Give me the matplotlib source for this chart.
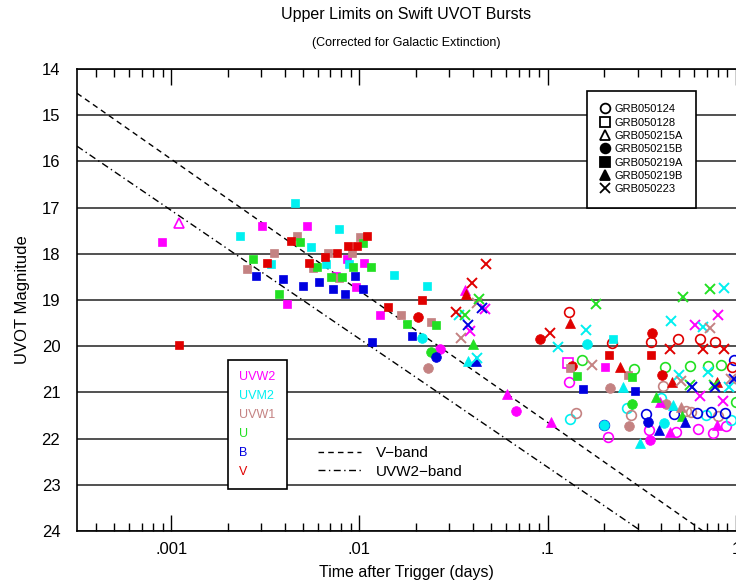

# uvot_limits.py
# Upper limits on Swift UVOT bursts, magnitude vs. time after trigger

import numpy as np
import matplotlib
matplotlib.use("Agg")
import matplotlib.pyplot as plt
from matplotlib.lines import Line2D

plt.rcParams['font.family'] = ['Liberation Sans', 'DejaVu Sans']

# band colours and legend order
BANDS = ['W2', 'M2', 'W1', 'U', 'B', 'V']
BAND_NAMES = ['UVW2', 'UVM2', 'UVW1', 'U', 'B', 'V']
BAND_COLORS = {'W2': '#ff00ff', 'M2': '#00f0f0', 'W1': '#c48282',
               'U': '#22e022', 'B': '#0000e0', 'V': '#e00000'}

# GRB050124 (open circles)
grb050124_band = ['V', 'W2', 'U', 'M2', 'W1', 'V', 'B', 'W2', 'U', 'M2', 'W1',
                  'B', 'W2', 'V', 'V', 'U', 'W1', 'M2', 'B', 'W1', 'W2', 'B',
                  'W2', 'M2', 'B', 'W2', 'B', 'W2', 'V', 'V', 'V', 'U', 'U',
                  'U', 'U', 'M2', 'W1', 'W1', 'B']
grb050124_time = [0.130, 0.129, 0.152, 0.131, 0.142, 0.219, 0.199, 0.209, 0.287,
                  0.264, 0.278, 0.333, 0.343, 0.355, 0.491, 0.422, 0.409, 0.400,
                  0.467, 0.544, 0.482, 0.619, 0.631, 0.690, 0.738, 0.754, 0.877,
                  0.887, 0.640, 0.776, 0.948, 0.571, 0.706, 0.836, 0.995, 0.940,
                  0.800, 0.580, 0.970]
grb050124_mag = [19.25, 20.77, 20.30, 21.58, 21.45, 19.94, 21.71, 21.96, 20.49,
                 21.34, 21.49, 21.47, 21.81, 19.90, 19.85, 20.46, 20.86, 21.13,
                 21.47, 21.40, 21.85, 21.45, 21.79, 21.49, 21.42, 21.87, 21.45,
                 21.73, 19.85, 19.90, 20.46, 20.43, 20.43, 20.41, 21.20, 21.60,
                 21.52, 21.43, 20.30]

# GRB050128 (open squares)
grb050128_band = ['W2']
grb050128_time = [0.128]
grb050128_mag = [20.37]

# GRB050215A (open triangles)
grb050215a_band = ['W2']
grb050215a_time = [0.0011]
grb050215a_mag = [17.33]

# GRB050215B (filled circles)
grb050215b_band = ['V', 'M2', 'U', 'W2', 'B', 'W1', 'W2', 'V', 'V', 'M2', 'W1',
                   'U', 'W1', 'M2', 'B', 'W2', 'V', 'V', 'W1', 'M2']
grb050215b_time = [0.0204, 0.0215, 0.0239, 0.0267, 0.0254, 0.0230, 0.0676, 0.0908,
                   0.135, 0.162, 0.215, 0.281, 0.270, 0.199, 0.340, 0.348, 0.359,
                   0.406, 0.425, 0.417]
grb050215b_mag = [19.36, 19.83, 20.12, 20.05, 20.24, 20.47, 21.40, 19.85, 20.42,
                  19.95, 20.91, 21.25, 21.72, 21.71, 21.65, 22.03, 19.71, 20.62,
                  21.25, 21.66]

# GRB050219A (filled squares)
grb050219a_band = ['W2', 'V', 'M2', 'W2', 'U', 'W1', 'B', 'V', 'M2', 'W2', 'M2',
                   'W1', 'V', 'U', 'M2', 'W1', 'V', 'U', 'V', 'V', 'W1', 'M2',
                   'W1', 'V', 'W1', 'V', 'V', 'W1', 'U', 'M2', 'W2', 'M2', 'U',
                   'W2', 'U', 'B', 'B', 'B', 'U', 'W2', 'W1', 'U', 'B', 'B', 'B',
                   'W2', 'B', 'U', 'W2', 'M2', 'V', 'W2', 'M2', 'V', 'W1', 'U',
                   'W1', 'U', 'B', 'B', 'V', 'W2', 'U', 'B', 'V', 'W1', 'U', 'B',
                   'W1', 'M2']
grb050219a_time = [0.000896, 0.0011, 0.00232, 0.00304, 0.00272, 0.00253, 0.00282,
                   0.00323, 0.00455, 0.00526, 0.00778, 0.00466, 0.00434, 0.00483,
                   0.00553, 0.01007, 0.01096, 0.01045, 0.0087, 0.0097, 0.00351,
                   0.00339, 0.0068, 0.0076, 0.00912, 0.00656, 0.0054, 0.00567,
                   0.00596, 0.00664, 0.00859, 0.00881, 0.00925, 0.01057, 0.0115,
                   0.00393, 0.00501, 0.0061, 0.00706, 0.0075, 0.0078, 0.00813,
                   0.00724, 0.00838, 0.00946, 0.00957, 0.01045, 0.00374, 0.00412,
                   0.01524, 0.01415, 0.01285, 0.02276, 0.02154, 0.01657, 0.01779,
                   0.02394, 0.02536, 0.01905, 0.01161, 0.211, 0.2006, 0.143,
                   0.154, 0.355, 0.267, 0.280, 0.290, 0.132, 0.222]
grb050219a_mag = [17.74, 19.97, 17.62, 17.40, 18.11, 18.33, 18.48, 18.20, 16.90,
                  17.40, 17.47, 17.61, 17.72, 17.75, 17.85, 17.63, 17.61, 17.77,
                  17.83, 17.83, 17.98, 18.22, 17.98, 17.98, 17.98, 18.07, 18.20,
                  18.31, 18.29, 18.22, 18.11, 18.22, 18.28, 18.20, 18.29, 18.55,
                  18.70, 18.61, 18.50, 18.48, 18.53, 18.50, 18.76, 18.87, 18.48,
                  18.72, 18.76, 18.87, 19.09, 18.46, 19.15, 19.32, 18.70, 19.00,
                  19.32, 19.52, 19.47, 19.54, 19.79, 19.90, 20.19, 20.44, 20.64,
                  20.93, 20.19, 20.62, 20.66, 20.98, 20.47, 19.85]

# GRB050219B (filled triangles)
grb050219b_band = ['W2', 'V', 'U', 'M2', 'B', 'W2', 'W2', 'V', 'V', 'M2', 'V',
                   'U', 'W2', 'W1', 'M2', 'U', 'B', 'B', 'M2', 'W2', 'V', 'W2']
grb050219b_time = [0.0363, 0.0366, 0.0401, 0.0378, 0.0418, 0.0607, 0.1047, 0.132,
                   0.241, 0.251, 0.457, 0.374, 0.393, 0.512, 0.460, 0.518, 0.533,
                   0.388, 0.308, 0.444, 0.795, 0.790]
grb050219b_mag = [18.78, 18.86, 19.95, 20.31, 20.31, 21.04, 21.63, 19.50, 20.44,
                  20.88, 20.78, 21.09, 21.20, 21.31, 21.27, 21.52, 21.63, 21.81,
                  22.09, 21.85, 20.77, 21.70]

# GRB050223 (crosses)
grb050223_band = ['V', 'V', 'U', 'W1', 'B', 'W2', 'V', 'M2', 'U', 'B', 'W2', 'W1',
                  'M2', 'V', 'M2', 'M2', 'U', 'W1', 'U', 'M2', 'V', 'M2', 'W1',
                  'B', 'U', 'W2', 'U', 'M2', 'W2', 'M2', 'W1', 'W2', 'V', 'V',
                  'M2', 'B', 'U', 'W1', 'M2', 'W2', 'B']
grb050223_time = [0.0473, 0.0398, 0.0432, 0.0422, 0.0450, 0.0463, 0.0325, 0.0339,
                  0.0363, 0.0375, 0.0386, 0.0348, 0.0422, 0.1026, 0.1135, 0.1604,
                  0.1813, 0.172, 0.522, 0.452, 0.444, 0.501, 0.512, 0.585, 0.570,
                  0.647, 0.725, 0.860, 0.602, 0.668, 0.730, 0.807, 0.664, 0.865,
                  0.706, 0.778, 0.762, 0.940, 0.922, 0.851, 0.970]
grb050223_mag = [18.21, 18.64, 18.98, 19.07, 19.17, 19.20, 19.27, 19.32, 19.32,
                 19.54, 19.67, 19.83, 20.26, 19.71, 20.01, 19.64, 19.09, 20.41,
                 18.94, 19.45, 20.07, 20.62, 20.75, 20.89, 20.84, 21.08, 18.77,
                 18.75, 19.54, 19.58, 19.60, 19.32, 20.06, 20.06, 20.55, 20.89,
                 20.84, 20.70, 20.88, 21.18, 20.70]

GRB_NAMES = ['GRB050124', 'GRB050128', 'GRB050215A', 'GRB050215B',
             'GRB050219A', 'GRB050219B', 'GRB050223']

# model decay lines: mag = intercept + slope * log10(t)
V_BAND = (24.5, 2.85)
UVW2_BAND = (25.4, 2.78)


def draw_grb(ax, bands, times, mags, marker, filled):
    for band in BANDS:
        sel = [i for i, b in enumerate(bands) if b == band]
        if not sel:
            continue
        t = [times[i] for i in sel]
        m = [mags[i] for i in sel]
        c = BAND_COLORS[band]
        if marker == 'x':
            ax.plot(t, m, 'x', color=c, ms=7.5, mew=1.4, zorder=3)
        elif filled:
            ax.plot(t, m, marker, color=c, mfc=c, mec=c, ms=7 if marker != 's' else 6,
                    mew=0.5, zorder=3)
        else:
            ax.plot(t, m, marker, color=c, mfc='none', mec=c, ms=7, mew=1.2, zorder=3)


def main():
    fig = plt.figure(figsize=(7.36, 5.82), dpi=100)
    ax = fig.add_axes([77 / 736, 1 - 531 / 582, 1 - 77 / 736, (531 - 69) / 582])

    draw_grb(ax, grb050124_band, grb050124_time, grb050124_mag, 'o', False)
    draw_grb(ax, grb050128_band, grb050128_time, grb050128_mag, 's', False)
    draw_grb(ax, grb050215a_band, grb050215a_time, grb050215a_mag, '^', False)
    draw_grb(ax, grb050215b_band, grb050215b_time, grb050215b_mag, 'o', True)
    draw_grb(ax, grb050219a_band, grb050219a_time, grb050219a_mag, 's', True)
    draw_grb(ax, grb050219b_band, grb050219b_time, grb050219b_mag, '^', True)
    draw_grb(ax, grb050223_band, grb050223_time, grb050223_mag, 'x', False)

    t = np.logspace(-3.5, 0, 100)
    v_line, = ax.plot(t, V_BAND[0] + V_BAND[1] * np.log10(t), color='black', lw=1,
                      ls=(0, (4, 3)), zorder=2)
    w2_line, = ax.plot(t, UVW2_BAND[0] + UVW2_BAND[1] * np.log10(t), color='black',
                       lw=1, ls=(0, (5, 2.5, 1, 2.5)), zorder=2)

    ax.set_xscale('log')
    ax.set_xlim(10 ** -3.5, 1)
    ax.set_ylim(24, 14)
    ax.set_yticks(range(14, 25))
    ax.yaxis.grid(True, color='#333333', lw=1.2)
    ax.set_axisbelow(True)
    ax.set_xticks([0.001, 0.01, 0.1, 1])
    ax.set_xticklabels(['.001', '.01', '.1', '1'])
    ax.tick_params(axis='y', length=0, pad=12, labelsize=12)
    ax.tick_params(axis='x', which='both', direction='in', top=True, bottom=True,
                   labelsize=12, pad=8)
    ax.tick_params(axis='x', which='major', length=11.5, width=1)
    ax.tick_params(axis='x', which='minor', length=5.5, width=1)
    ax.spines['right'].set_visible(False)
    for s in ['left', 'top', 'bottom']:
        ax.spines[s].set_linewidth(1.2)

    ax.set_xlabel('Time after Trigger (days)', fontsize=11.5, labelpad=6)
    ax.set_ylabel('UVOT Magnitude', fontsize=12, labelpad=8)
    fig.text(406 / 736, 1 - 14 / 582, 'Upper Limits on Swift UVOT Bursts',
             ha='center', va='center', fontsize=11.5)
    fig.text(406 / 736, 1 - 43 / 582, '(Corrected for Galactic Extinction)',
             ha='center', va='center', fontsize=9)

    # GRB marker legend
    styles = [('o', False), ('s', False), ('^', False), ('o', True), ('s', True),
              ('^', True), ('x', False)]
    handles = []
    for mk, filled in styles:
        handles.append(Line2D([], [], ls='none', marker=mk, color='black',
                              mfc='black' if filled else 'none', mec='black',
                              ms=7, mew=1.3))
    leg1 = ax.legend(handles, GRB_NAMES, loc='upper left',
                     bbox_to_anchor=(587 / 736, 1 - 91 / 582),
                     bbox_transform=fig.transFigure, fontsize=8, frameon=True,
                     fancybox=False, edgecolor='black', framealpha=1,
                     borderpad=1.2, labelspacing=0.3, handlelength=0.9,
                     handletextpad=0.35, borderaxespad=0)
    leg1.get_frame().set_linewidth(1.2)
    ax.add_artist(leg1)

    # band colour legend
    blank = [Line2D([], [], ls='none') for _ in BAND_NAMES]
    leg2 = ax.legend(blank, BAND_NAMES, loc='upper left',
                     bbox_to_anchor=(228 / 736, 1 - 360 / 582),
                     bbox_transform=fig.transFigure, fontsize=9, frameon=True,
                     fancybox=False, edgecolor='black', framealpha=1,
                     borderpad=0.9, labelspacing=0.55, handlelength=0,
                     handletextpad=0, borderaxespad=0,
                     labelcolor=[BAND_COLORS[b] for b in BANDS])
    leg2.get_frame().set_linewidth(1.2)
    ax.add_artist(leg2)

    # decay line legend
    ax.legend([v_line, w2_line], ['V\u2212band', 'UVW2\u2212band'], loc='upper left',
              bbox_to_anchor=(318 / 736, 1 - 446 / 582),
              bbox_transform=fig.transFigure, fontsize=11, frameon=False,
              borderpad=0, labelspacing=0.3, handlelength=2.8,
              handletextpad=1.0, borderaxespad=0)

    fig.savefig('out.png', dpi=100)


if __name__ == "__main__":
    main()
